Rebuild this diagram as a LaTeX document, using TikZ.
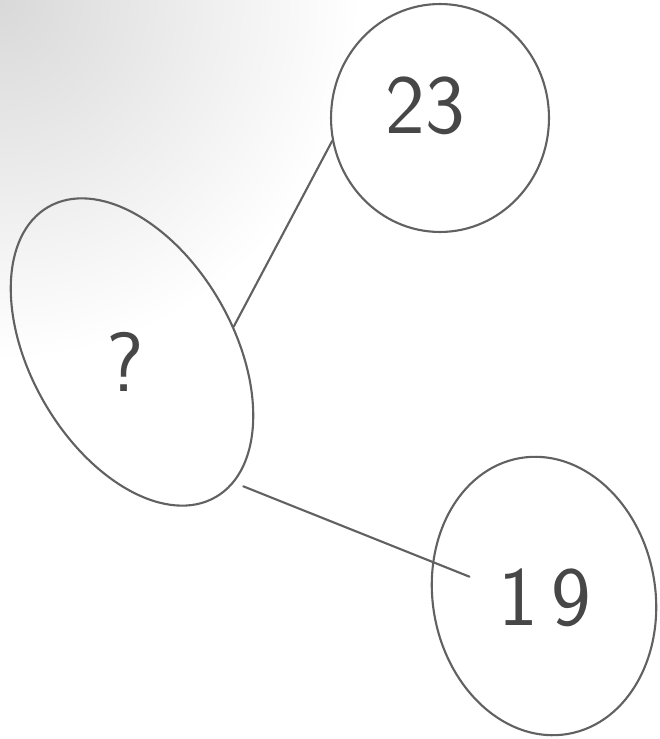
\documentclass[tikz,border=0pt]{standalone}
\usepackage{tikz}
\usetikzlibrary{shapes.geometric}

\begin{document}
\begin{tikzpicture}[x=0.02cm, y=-0.02cm,
    sketch/.style={draw=black!62, line width=1.2pt},
    blob/.style={sketch, ellipse, inner sep=0pt},
    digits/.style={font=\sffamily\fontsize{48}{50}\selectfont, text=black!72},
    edge/.style={sketch, line cap=round}]

    % --- Paper ---
    \useasboundingbox (0,0) rectangle (659,739);
    \fill[white] (0,0) rectangle (659,739);
    \begin{scope}
        \clip (0,0) rectangle (659,739);
        \shade[inner color=black!15, outer color=white] (0,0) circle (360);
    \end{scope}

    % --- Vertices ---
    \node[blob, minimum width=6.7cm, minimum height=4.05cm, rotate=-60] (q) at (132,352) {};
    \node[blob, minimum width=4.36cm, minimum height=4.56cm] (n23) at (440,118) {};
    \node[blob, minimum width=4.45cm, minimum height=5.6cm, rotate=10] (n19) at (544,596) {};

    % --- Labels ---
    \node[digits] (lq) at (125,362) {?};
    \node[digits] (l23) at (425,106) {23};
    \node[digits] (l19) at (545,598) {1\,9};

    % --- Edges ---
    \draw[edge] (q.74) -- (n23.192);
    \draw[edge, shorten <=0.2cm, shorten >=-0.8cm] (q.8) -- (n19.153);

\end{tikzpicture}
\end{document}
